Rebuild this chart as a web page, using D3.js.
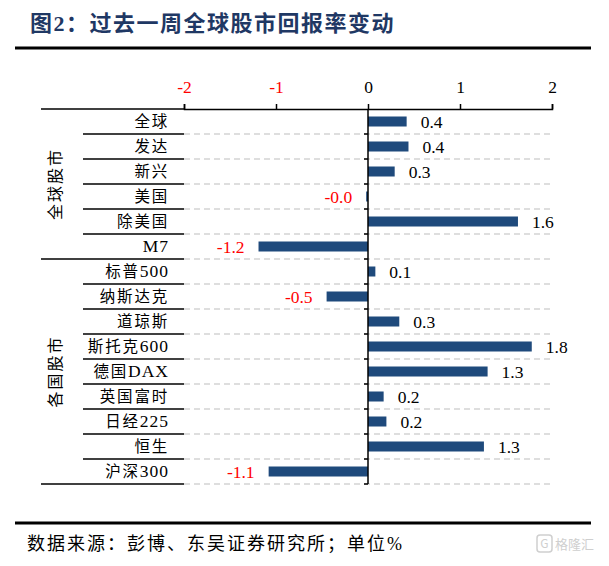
<!DOCTYPE html>
<html>
<head>
<meta charset="utf-8">
<script src="https://cdn.jsdelivr.net/npm/d3@7"></script>
<style>
  body { margin: 0; background: #fff; }
  svg { display: block; }
</style>
</head>
<body>
<svg id="chart" width="609" height="566"></svg>
<script>
// chart data
const categories = ["全球", "发达", "新兴", "美国", "除美国", "M7",
  "标普500", "纳斯达克", "道琼斯", "斯托克600", "德国DAX", "英国富时", "日经225", "恒生", "沪深300"];
const groupNames = ["全球股市", "各国股市"];
const groupOf = ["全球股市", "全球股市", "全球股市", "全球股市", "全球股市", "全球股市",
  "各国股市", "各国股市", "各国股市", "各国股市", "各国股市", "各国股市", "各国股市", "各国股市", "各国股市"];
const values = [0.42, 0.44, 0.29, -0.02, 1.63, -1.19,
  0.08, -0.45, 0.34, 1.78, 1.30, 0.17, 0.20, 1.26, -1.08];
const tickValues = [-2, -1, 0, 1, 2];

const serif = "'Liberation Serif', 'Noto Sans CJK SC', serif";
const barColor = "#1f4a7c";
const red = "#ff0000";

let svg = d3.select('#chart');

// title + rules
svg.append('text')
  .attr('x', 30).attr('y', 31)
  .attr('font-family', serif)
  .attr('font-size', 22).attr('font-weight', 'bold')
  .attr('letter-spacing', 1.5)
  .attr('fill', '#1f3864')
  .text('图2：过去一周全球股市回报率变动');

svg.append('line').attr('x1', 15).attr('x2', 591).attr('y1', 48).attr('y2', 48)
  .attr('stroke', '#000').attr('stroke-width', 3);
svg.append('line').attr('x1', 15).attr('x2', 591).attr('y1', 523).attr('y2', 523)
  .attr('stroke', '#000').attr('stroke-width', 3);

svg.append('text')
  .attr('x', 27).attr('y', 550)
  .attr('font-family', serif)
  .attr('font-size', 18)
  .attr('letter-spacing', 2)
  .text('数据来源：彭博、东吴证券研究所；单位%');

// watermark
svg.append('rect').attr('x', 537).attr('y', 535).attr('width', 15).attr('height', 17).attr('rx', 3)
  .attr('fill', 'none').attr('stroke', '#cfcfcf').attr('stroke-width', 1.5);
svg.append('text').attr('x', 544.5).attr('y', 548).attr('text-anchor', 'middle')
  .attr('font-family', 'Noto Sans CJK SC').attr('font-size', 12).attr('fill', '#cfcfcf').text('G');
svg.append('text').attr('x', 555).attr('y', 549)
  .attr('font-family', 'Noto Sans CJK SC').attr('font-size', 13).attr('fill', '#cfcfcf').text('格隆汇');

// scales
let xScale = d3.scaleLinear().domain([-2, 2]).range([184, 552]);
let rowScale = d3.scaleBand().domain(categories).range([109, 484]);
let yScale = d3.scaleBand().domain(categories).range([109, 484])
  .paddingInner(0.6).paddingOuter(0.3);

const x0 = xScale(0);
const step = rowScale.step();
const boundaries = categories.map(c => rowScale(c) + step);

// CJK and latin runs get different sizes, like the original mixed fonts
function mixedText(sel, cjkSize, latinSize) {
  sel.each(function (d) {
    let t = d3.select(this);
    let runs = d.match(/[\u4e00-\u9fff\uff00-\uffef]+|[^\u4e00-\u9fff\uff00-\uffef]+/g);
    runs.forEach(r => {
      let cjk = /[\u4e00-\u9fff]/.test(r);
      t.append('tspan')
        .attr('font-size', cjk ? cjkSize : latinSize)
        .attr('letter-spacing', cjk ? 1.8 : 1)
        .text(r);
    });
  });
}

// dashed grid at row boundaries
svg.append('g')
  .selectAll('line')
  .data(boundaries)
  .enter()
  .append('line')
  .attr('x1', xScale(-2)).attr('x2', xScale(2))
  .attr('y1', d => d).attr('y2', d => d)
  .attr('stroke', '#d4d4d4').attr('stroke-width', 1.5)
  .attr('stroke-dasharray', '6,4');

// bars
svg.append('g')
  .selectAll('rect')
  .data(categories)
  .enter()
  .append('rect')
  .attr('x', (d, i) => Math.min(xScale(values[i]), x0))
  .attr('y', d => yScale(d))
  .attr('width', (d, i) => Math.abs(xScale(values[i]) - x0))
  .attr('height', yScale.bandwidth())
  .attr('fill', barColor);

// value labels
svg.append('g')
  .selectAll('text')
  .data(categories)
  .enter()
  .append('text')
  .attr('x', (d, i) => values[i] < 0 ? xScale(values[i]) - 14 : xScale(values[i]) + 14)
  .attr('y', d => yScale(d) + yScale.bandwidth() / 2)
  .attr('dy', '0.36em')
  .attr('text-anchor', (d, i) => values[i] < 0 ? 'end' : 'start')
  .attr('font-family', serif).attr('font-size', 17.5)
  .attr('fill', (d, i) => values[i] < 0 ? red : '#000')
  .text((d, i) => values[i].toFixed(1));

// top value axis
let xAxis = d3.axisTop(xScale)
  .tickValues(tickValues)
  .tickSize(5)
  .tickFormat(d => d);

let axisG = svg.append('g')
  .attr('transform', 'translate(0, 109)')
  .call(xAxis);
axisG.select('.domain').attr('stroke-width', 1.5);
axisG.selectAll('.tick line').attr('stroke-width', 1.5);
axisG.selectAll('.tick text')
  .attr('font-family', serif).attr('font-size', 17.5)
  .attr('y', -16)
  .attr('fill', d => d < 0 ? red : '#000');

// left extension of the top line
svg.append('line').attr('x1', 41).attr('x2', 184).attr('y1', 109).attr('y2', 109)
  .attr('stroke', '#000').attr('stroke-width', 1.5);

// zero line with boundary ticks
svg.append('line').attr('x1', x0).attr('x2', x0).attr('y1', 109).attr('y2', 484)
  .attr('stroke', '#000').attr('stroke-width', 1.5);
svg.append('g')
  .selectAll('line')
  .data(boundaries)
  .enter()
  .append('line')
  .attr('x1', x0 - 4).attr('x2', x0)
  .attr('y1', d => d).attr('y2', d => d)
  .attr('stroke', '#000').attr('stroke-width', 1.5);

// category table lines
svg.append('g')
  .selectAll('line')
  .data(categories)
  .enter()
  .append('line')
  .attr('x1', (d, i) => (i === categories.length - 1 || groupOf[i] !== groupOf[i + 1]) ? 41 : 83)
  .attr('x2', 184)
  .attr('y1', d => rowScale(d) + step)
  .attr('y2', d => rowScale(d) + step)
  .attr('stroke', '#000').attr('stroke-width', 1.5);

// category labels
svg.append('g')
  .selectAll('text')
  .data(categories)
  .enter()
  .append('text')
  .attr('x', 169)
  .attr('y', d => rowScale(d) + step / 2)
  .attr('dy', '0.36em')
  .attr('text-anchor', 'end')
  .attr('font-family', serif)
  .call(mixedText, 15.5, 17.5);

// group labels (vertical)
groupNames.forEach(g => {
  let members = categories.filter((c, i) => groupOf[i] === g);
  let top = rowScale(members[0]);
  let bottom = rowScale(members[members.length - 1]) + step;
  let cy = (top + bottom) / 2;
  svg.append('text')
    .attr('transform', `translate(55, ${cy}) rotate(-90)`)
    .attr('text-anchor', 'middle')
    .attr('dy', '0.35em')
    .attr('font-family', serif).attr('font-size', 16)
    .attr('letter-spacing', 2)
    .text(g);
});
</script>
</body>
</html>
